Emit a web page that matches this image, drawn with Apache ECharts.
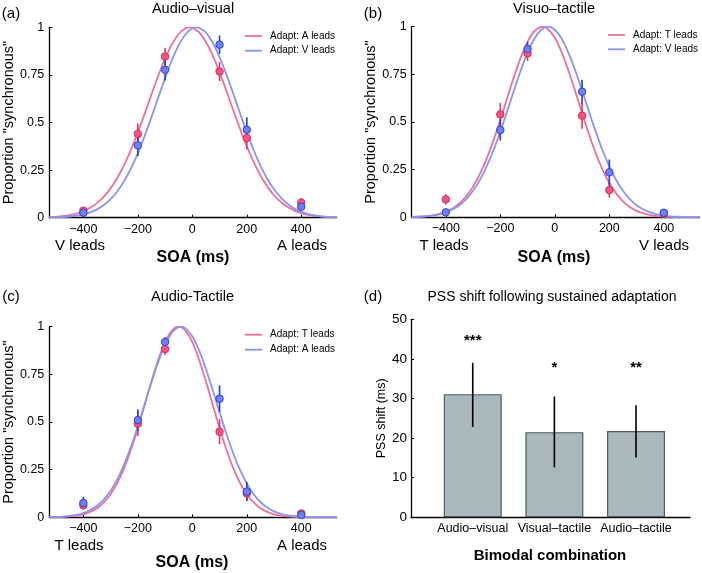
<!DOCTYPE html>
<html><head><meta charset="utf-8">
<script src="https://cdn.jsdelivr.net/npm/echarts@6/dist/echarts.min.js"></script>
<style>html,body{margin:0;padding:0;background:#fff}#c{width:702px;height:573px}</style>
</head><body><div id="c"></div>
<script>
// ---------- data ----------
const soa = [-400, -200, -100, 100, 200, 400];
const soaTicks = [-400, -200, 0, 200, 400];

// (a) Audio-visual
const avAleads = [0.037, 0.44, 0.846, 0.768, 0.419, 0.079];
const avAleadsErr = [0.015, 0.055, 0.045, 0.05, 0.06, 0.025];
const avVleads = [0.026, 0.38, 0.777, 0.909, 0.462, 0.058];
const avVleadsErr = [0.012, 0.057, 0.057, 0.048, 0.065, 0.02];
// (b) Visuo-tactile
const vtTleads = [0.094, 0.54, 0.86, 0.533, 0.143, 0.02];
const vtTleadsErr = [0.027, 0.06, 0.04, 0.068, 0.04, 0.01];
const vtVleads = [0.026, 0.458, 0.883, 0.659, 0.236, 0.024];
const vtVleadsErr = [0.01, 0.055, 0.035, 0.063, 0.067, 0.012];
// (c) Audio-tactile
const atTleads = [0.063, 0.491, 0.883, 0.449, 0.126, 0.02];
const atTleadsErr = [0.02, 0.065, 0.03, 0.065, 0.04, 0.01];
const atAleads = [0.075, 0.51, 0.92, 0.622, 0.135, 0.012];
const atAleadsErr = [0.033, 0.057, 0.025, 0.07, 0.05, 0.008];

// fitted curves
const fitSOA = [-525,-500,-475,-450,-425,-400,-375,-350,-325,-300,-275,
  -250,-225,-200,-175,-150,-125,-100,-75,-50,-25,0,
  25,50,75,100,125,150,175,200,225,250,275,
  300,325,350,375,400,425,450,475,500,525,530];
const avAleadsFit = [0.0028,0.0048,0.0082,0.0135,0.0218,0.034,0.0518,0.0766,0.1103,0.154,0.21,
  0.278,0.358,0.448,0.546,0.647,0.7454,0.835,0.9104,0.965,0.995,0.998,
  0.9731,0.923,0.8517,0.764,0.667,0.566,0.4674,0.375,0.2931,0.223,0.1645,
  0.118,0.0826,0.056,0.0371,0.024,0.0149,0.0091,0.0054,0.0031,0.0017,0.0015];
const avAleadsPeak = -10;
const avVleadsFit = [0.0011,0.002,0.0036,0.0063,0.0107,0.0176,0.0282,0.0439,0.0664,0.0976,0.1391,
  0.193,0.2589,0.338,0.4288,0.528,0.6314,0.733,0.827,0.906,0.9632,0.995,
  0.9977,0.972,0.919,0.844,0.7529,0.652,0.5486,0.448,0.3554,0.274,0.2048,
  0.149,0.105,0.072,0.0478,0.031,0.0194,0.0118,0.007,0.004,0.0022,0.002];
const avVleadsPeak = 15;
const vtTleadsFit = [0.0015,0.0029,0.0054,0.0098,0.0171,0.0287,0.0466,0.0729,0.1102,0.161,0.2264,
  0.308,0.4034,0.511,0.6241,0.736,0.838,0.921,0.9765,0.9995,0.9876,0.942,
  0.8669,0.770,0.6605,0.547,0.4368,0.337,0.2507,0.180,0.1249,0.0836,0.054,
  0.0337,0.0203,0.0118,0.0066,0.0036,0.0019,0.0009,0.0005,0.0002,0.0001,0.0001];
const vtTleadsPeak = -46;
const vtVleadsFit = [0.0015,0.0028,0.0051,0.009,0.0153,0.0254,0.0409,0.0634,0.0954,0.139,0.1955,
  0.267,0.3519,0.4495,0.5557,0.665,0.7702,0.863,0.9368,0.984,1.0,0.984,
  0.9368,0.863,0.7702,0.665,0.5557,0.4495,0.3519,0.267,0.1955,0.139,0.0954,
  0.0634,0.0409,0.0254,0.0153,0.009,0.0051,0.0028,0.0015,0.0008,0.0004,0.0003];
const vtVleadsPeak = -25;
const atTleadsFit = [0.0005,0.0011,0.0022,0.0045,0.0087,0.0159,0.0282,0.0478,0.0777,0.1211,0.1808,
  0.2589,0.3554,0.4677,0.5898,0.7133,0.827,0.919,0.9791,1.0,0.9791,0.919,
  0.827,0.7133,0.5898,0.4677,0.3554,0.2589,0.1808,0.1211,0.0777,0.0478,0.0282,
  0.0159,0.0087,0.0045,0.0022,0.0011,0.0005,0.0002,0.0001,0.00004,0.00002,0.00001];
const atTleadsPeak = -50;
const atAleadsFit = [0.001,0.002,0.0039,0.0073,0.013,0.0226,0.0376,0.0604,0.0935,0.1396,0.2007,
  0.278,0.3713,0.478,0.5926,0.708,0.8156,0.905,0.9683,0.998,0.9915,0.949,
  0.8756,0.7785,0.667,0.551,0.4382,0.336,0.2483,0.177,0.1214,0.0802,0.0512,
  0.0314,0.0186,0.0106,0.0058,0.0031,0.0016,0.0008,0.0004,0.0002,0.0001,0.0001];
const atAleadsPeak = -42;

// (d) PSS shift
const combos = ['Audio\u2013visual', 'Visual\u2013tactile', 'Audio\u2013tactile'];
const comboPos = [1, 2, 3];
const pssShift = [31.1, 21.5, 21.8];
const pssLow = [22.8, 12.6, 15.1];
const pssHigh = [39.0, 30.5, 28.3];
const sigStars = ['***', '*', '**'];
const sigLevel = [45.5, 38.7, 38.7];

// ---------- styles ----------
const FONT = 'Liberation Sans, Arial, sans-serif';
const PINK_LINE = '#ef6d9e', PINK_DOT = '#f2557f', PINK_EDGE = '#d92a5e', PINK_ERR = '#e0356a';
const BLUE_LINE = '#8795ef', BLUE_DOT = '#6f80f3', BLUE_EDGE = '#3043d6', BLUE_ERR = '#2b3ccc';

function curve(xs, ys, peak) {
  const pts = xs.map((x, i) => [x, ys[i]]);
  if (xs.indexOf(peak) < 0) pts.push([peak, 1]);
  pts.sort((a, b) => a[0] - b[0]);
  return pts;
}
function pairs(xs, ys) { return xs.map((x, i) => [x, ys[i]]); }
function errs(xs, ys, es) { return xs.map((x, i) => [x, ys[i] - es[i], ys[i] + es[i]]); }

const grids = [
  {left: 49.3, top: 27.3, width: 287.4, height: 190.4},
  {left: 411.7, top: 26.7, width: 287.6, height: 190.6},
  {left: 49.3, top: 326.7, width: 287.4, height: 190.6},
  {left: 411, top: 319.3, width: 279, height: 198}
];

const axisLine = {show: true, onZero: false, lineStyle: {color: '#000', width: 1.3}};
const xAxes = [], yAxes = [], series = [];
for (let g = 0; g < 3; g++) {
  xAxes.push({
    gridIndex: g, type: 'value', min: -525, max: 530,
    axisLine, splitLine: {show: false},
    axisTick: {show: true, inside: true, length: 3, customValues: soaTicks, lineStyle: {color: '#000', width: 1}},
    axisLabel: {customValues: soaTicks, color: '#000', fontSize: 12.5, fontFamily: FONT, margin: 5,
      formatter: v => String(v).replace('-', '\u2212')}
  });
  yAxes.push({
    gridIndex: g, type: 'value', min: 0, max: 1, interval: 0.25,
    axisLine, splitLine: {show: false},
    axisTick: {show: true, inside: true, length: 3, lineStyle: {color: '#000', width: 1}},
    axisLabel: {color: '#000', fontSize: 12.5, fontFamily: FONT, margin: 5, formatter: v => String(v)},
    name: 'Proportion "synchronous"', nameLocation: 'middle', nameGap: 29,
    nameTextStyle: {color: '#000', fontSize: 14.5, fontFamily: FONT}
  });
}
xAxes.push({
  gridIndex: 3, type: 'value', min: 0.244, max: 3.661,
  axisLine, splitLine: {show: false}, axisTick: {show: false},
  axisLabel: {customValues: comboPos, color: '#000', fontSize: 12.5, fontFamily: FONT, margin: 5,
    formatter: v => combos[Math.round(v) - 1] || ''}
});
yAxes.push({
  gridIndex: 3, type: 'value', min: 0, max: 50, interval: 10,
  axisLine, splitLine: {show: false},
  axisTick: {show: true, inside: true, length: 3, lineStyle: {color: '#000', width: 1}},
  axisLabel: {color: '#000', fontSize: 13.5, fontFamily: FONT, margin: 4},
  name: 'PSS shift (ms)', nameLocation: 'middle', nameGap: 22,
  nameTextStyle: {color: '#000', fontSize: 12.5, fontFamily: FONT}
});

function errSeries(g, data, color) {
  return {
    type: 'custom', xAxisIndex: g, yAxisIndex: g, z: 4, encode: {x: 0, y: [1, 2]},
    renderItem: (params, api) => {
      const x = api.value(0);
      const p1 = api.coord([x, api.value(1)]), p2 = api.coord([x, api.value(2)]);
      return {type: 'line', shape: {x1: p1[0], y1: p1[1], x2: p2[0], y2: p2[1]},
        style: {stroke: color, lineWidth: 1.6}};
    },
    data
  };
}
function lineSeries(g, data, color) {
  return {type: 'line', xAxisIndex: g, yAxisIndex: g, data, smooth: 0.3, showSymbol: false, z: 2,
    lineStyle: {color, width: 1.8}, silent: true};
}
function dotSeries(g, data, fill, edge) {
  return {type: 'scatter', xAxisIndex: g, yAxisIndex: g, data, symbol: 'circle', symbolSize: 7.5, z: 5,
    itemStyle: {color: fill, borderColor: edge, borderWidth: 1, opacity: 1}};
}
const panels = [
  {pink: [avAleads, avAleadsErr, avAleadsFit, avAleadsPeak], blue: [avVleads, avVleadsErr, avVleadsFit, avVleadsPeak]},
  {pink: [vtTleads, vtTleadsErr, vtTleadsFit, vtTleadsPeak], blue: [vtVleads, vtVleadsErr, vtVleadsFit, vtVleadsPeak]},
  {pink: [atTleads, atTleadsErr, atTleadsFit, atTleadsPeak], blue: [atAleads, atAleadsErr, atAleadsFit, atAleadsPeak]}
];
panels.forEach((p, g) => {
  series.push(lineSeries(g, curve(fitSOA, p.pink[2], p.pink[3]), PINK_LINE));
  series.push(lineSeries(g, curve(fitSOA, p.blue[2], p.blue[3]), BLUE_LINE));
  series.push(errSeries(g, errs(soa, p.pink[0], p.pink[1]), PINK_ERR));
  series.push(dotSeries(g, pairs(soa, p.pink[0]), PINK_DOT, PINK_EDGE));
  series.push(errSeries(g, errs(soa, p.blue[0], p.blue[1]), BLUE_ERR));
  series.push(dotSeries(g, pairs(soa, p.blue[0]), BLUE_DOT, BLUE_EDGE));
});
series.push({type: 'bar', xAxisIndex: 3, yAxisIndex: 3, data: pairs(comboPos, pssShift), barWidth: 58,
  itemStyle: {color: '#a9b8bc', borderColor: '#4f5b5f', borderWidth: 1.2}});
series.push({type: 'custom', xAxisIndex: 3, yAxisIndex: 3, z: 5, encode: {x: 0, y: [1, 2]},
  renderItem: (params, api) => {
    const x = api.value(0);
    const p1 = api.coord([x, api.value(1)]), p2 = api.coord([x, api.value(2)]);
    return {type: 'line', shape: {x1: p1[0], y1: p1[1], x2: p2[0], y2: p2[1]}, style: {stroke: '#000', lineWidth: 1.6}};
  },
  data: comboPos.map((x, i) => [x, pssLow[i], pssHigh[i]])});
series.push({type: 'custom', xAxisIndex: 3, yAxisIndex: 3, z: 5, encode: {x: 0, y: 1},
  renderItem: (params, api) => {
    const p = api.coord([api.value(0), api.value(1)]);
    return {type: 'text', x: p[0], y: p[1] + 4,
      style: {text: sigStars[params.dataIndex], font: 'bold 15px ' + FONT, fill: '#000', align: 'center', verticalAlign: 'middle'}};
  },
  data: comboPos.map((x, i) => [x, sigLevel[i]])});

function txt(x, y, text, size, bold, align) {
  return {type: 'text', x, y, silent: true,
    style: {text, font: (bold ? 'bold ' : '') + size + 'px ' + FONT, fill: '#000', align: align || 'center', verticalAlign: 'middle'}};
}
function legendItem(x, y, color, text) {
  return [
    {type: 'line', shape: {x1: x, y1: y, x2: x + 17, y2: y}, style: {stroke: color, lineWidth: 1.8}, silent: true},
    txt(x + 25, y, text, 10, false, 'left')
  ];
}
const graphic = [
  txt(11, 14, '(a)', 15), txt(193, 9, 'Audio\u2013visual', 14.5),
  txt(80, 246, 'V leads', 15), txt(302, 246, 'A leads', 15), txt(193, 258, 'SOA (ms)', 16, true),
  txt(373, 14, '(b)', 15), txt(554, 9, 'Visuo\u2013tactile', 14.5),
  txt(444, 246, 'T leads', 15), txt(664, 246, 'V leads', 15), txt(554, 258, 'SOA (ms)', 16, true),
  txt(11, 297, '(c)', 15), txt(192.5, 297, 'Audio-Tactile', 14.5),
  txt(79, 545.7, 'T leads', 15), txt(302, 545.7, 'A leads', 15), txt(192, 562.7, 'SOA (ms)', 16, true),
  txt(373, 297, '(d)', 15), txt(552, 297, 'PSS shift following sustained adaptation', 14),
  txt(550, 555.7, 'Bimodal combination', 15, true),
  ...legendItem(245, 36, PINK_LINE, 'Adapt: A leads'), ...legendItem(245, 50.7, BLUE_LINE, 'Adapt: V leads'),
  ...legendItem(608, 35, PINK_LINE, 'Adapt: T leads'), ...legendItem(608, 49.3, BLUE_LINE, 'Adapt: V leads'),
  ...legendItem(245, 334.7, PINK_LINE, 'Adapt: T leads'), ...legendItem(245, 349.7, BLUE_LINE, 'Adapt: A leads')
];

const chart = echarts.init(document.getElementById('c'), null, {renderer: 'canvas'});
chart.setOption({animation: false, backgroundColor: '#fff', grid: grids, xAxis: xAxes, yAxis: yAxes, series, graphic});
</script></body></html>
